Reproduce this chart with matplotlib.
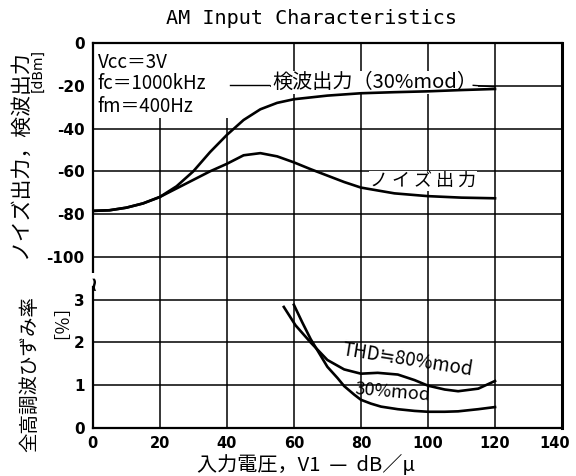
import matplotlib
matplotlib.use('Agg')
import matplotlib.pyplot as plt
from matplotlib.patches import Rectangle
from matplotlib.transforms import ScaledTranslation

plt.rcParams['axes.unicode_minus'] = False
jp = ['Noto Sans CJK JP', 'DejaVu Sans']

# detection output (30% mod) and noise output, dBm
det_x = [0, 5, 10, 15, 20, 25, 30, 35, 40, 45, 50, 55, 60, 70, 80, 90, 100, 110, 120]
det_y = [-78.5, -78.2, -77, -75, -72, -67, -60, -51, -43, -36, -31, -28, -26.3,
         -24.6, -23.5, -23, -22.6, -22, -21.5]
noise_x = [0, 5, 10, 15, 20, 25, 30, 35, 40, 45, 50, 55, 60, 65, 70, 75, 80, 90,
           100, 110, 120]
noise_y = [-78.5, -78.2, -77, -75, -72, -68, -64, -60, -56.5, -52.5, -51.5, -53,
           -55.8, -59, -62, -65, -67.6, -70.3, -71.6, -72.3, -72.6]

# total harmonic distortion, %
thd80_x = [57, 60.5, 65, 70, 75, 80, 85, 91, 96, 100, 105, 109, 115, 120]
thd80_y = [2.83, 2.40, 2.00, 1.59, 1.37, 1.27, 1.29, 1.25, 1.12, 0.99, 0.90,
           0.86, 0.92, 1.10]
thd30_x = [60, 62.5, 65, 68, 70, 73, 75, 78, 80, 83, 86, 91, 96, 100, 105, 109,
           115, 120]
thd30_y = [2.88, 2.47, 2.08, 1.69, 1.43, 1.17, 0.98, 0.78, 0.66, 0.57, 0.50,
           0.44, 0.40, 0.38, 0.38, 0.39, 0.44, 0.49]

x_ticks = [0, 20, 40, 60, 80, 100, 120, 140]
dbm_ticks = [0, -20, -40, -60, -80, -100]
pct_ticks = [0, 1, 2, 3]

fig = plt.figure(figsize=(5.76, 4.76), dpi=100)
rect = [0.161, 0.1008, 0.8148, 0.8089]

ax = fig.add_axes(rect)
ax.set_xlim(0, 140)
ax.set_ylim(-180, 0)
ax.set_xticks(x_ticks)
ax.set_yticks(dbm_ticks)
ax.set_yticklabels([str(t) for t in dbm_ticks])
ax.grid(True, color='black', linewidth=1.1)
ax.tick_params(axis='y', length=0, pad=6, labelsize=11)
ax.tick_params(axis='x', length=0, pad=6, labelsize=10.5)
for lab in ax.get_xticklabels() + ax.get_yticklabels():
    lab.set_fontweight('bold')
# keep the last x label inside the figure
last = ax.get_xticklabels()[-1]
last.set_transform(last.get_transform() + ScaledTranslation(-5 / 72, 0, fig.dpi_scale_trans))
for s in ax.spines.values():
    s.set_linewidth(1.6)
ax.spines['right'].set_linewidth(2.2)
ax.spines['left'].set_bounds(-107, 0)

# blank area behind the condition text
ax.add_patch(Rectangle((0.3, -35), 52.5, 34.7, facecolor='white', edgecolor='none',
                       zorder=1.8))

ax.plot(det_x, det_y, color='black', linewidth=1.9, zorder=3)
ax.plot(noise_x, noise_y, color='black', linewidth=1.9, zorder=3)

ax.text(1.5, -9, 'Vcc＝3V', family=jp, fontsize=13.5, va='center', zorder=4)
ax.text(1.5, -19, 'fc＝1000kHz', family=jp, fontsize=13.5, va='center', zorder=4)
ax.text(1.5, -29.5, 'fm＝400Hz', family=jp, fontsize=13.5, va='center', zorder=4)
ax.plot([41, 52.5], [-19.5, -19.5], color='black', linewidth=1, zorder=4)
ax.text(53.5, -18.5, '検波出力（30%mod）', family=jp, fontsize=14.5, va='center',
        zorder=2.5, bbox=dict(facecolor='white', edgecolor='none', pad=0.5))
ax.plot([113.5, 120], [-19.8, -20.5], color='black', linewidth=1, zorder=4)
ax.text(98.5, -64.5, 'ノ イ ズ 出 力', family=jp, fontsize=13, ha='center',
        va='center', zorder=2.5, bbox=dict(facecolor='white', edgecolor='none', pad=0.5))

ax.text(0, -111.5, '~', fontsize=14, fontweight='bold', rotation=90, ha='center',
        va='center', clip_on=False, zorder=5,
        bbox=dict(facecolor='white', edgecolor='none', pad=0.2))

ax2 = fig.add_axes(rect, sharex=ax)
ax2.patch.set_visible(False)
ax2.set_ylim(0, 9)
ax2.set_yticks(pct_ticks)
ax2.grid(True, axis='y', color='black', linewidth=1.1)
ax2.tick_params(axis='x', bottom=False, labelbottom=False)
ax2.tick_params(axis='y', length=0, pad=6, labelsize=11)
for lab in ax2.get_yticklabels():
    lab.set_fontweight('bold')
for name in ['top', 'right', 'bottom']:
    ax2.spines[name].set_visible(False)
ax2.spines['left'].set_linewidth(1.6)
ax2.spines['left'].set_bounds(0, 3.3)

ax2.plot(thd80_x, thd80_y, color='black', linewidth=1.9, zorder=3)
ax2.plot(thd30_x, thd30_y, color='black', linewidth=1.9, zorder=3)
ax2.text(94, 1.6, 'THD≒80%mod', family=jp, fontsize=13.5, rotation=-9,
         ha='center', va='center', zorder=4)
ax2.text(89.5, 0.83, '30%mod', family=jp, fontsize=13, rotation=-5,
         ha='center', va='center', zorder=4)

fig.text(311 / 576, 1 - 18 / 476, 'AM Input Characteristics', family='DejaVu Sans Mono',
         fontsize=14.5, ha='center', va='center')
fig.text(20 / 576, 1 - 155 / 476, 'ノイズ出力，検波出力', family=jp, fontsize=15,
         rotation=90, ha='center', va='center')
fig.text(38 / 576, 1 - 71 / 476, '[dBm]', fontsize=10, rotation=90,
         ha='center', va='center')
fig.text(30 / 576, 1 - 374 / 476, '全高調波ひずみ率', family=jp, fontsize=14,
         rotation=90, ha='center', va='center')
fig.text(52 / 576, 1 - 312 / 476, '［％］', family=jp, fontsize=13, rotation=90,
         ha='center', va='center')
fig.text(306 / 576, 1 - 465 / 476, '入力電圧，V1  —  dB／μ', family=jp, fontsize=14.5,
         ha='center', va='center')

fig.savefig('out.png', dpi=100)
